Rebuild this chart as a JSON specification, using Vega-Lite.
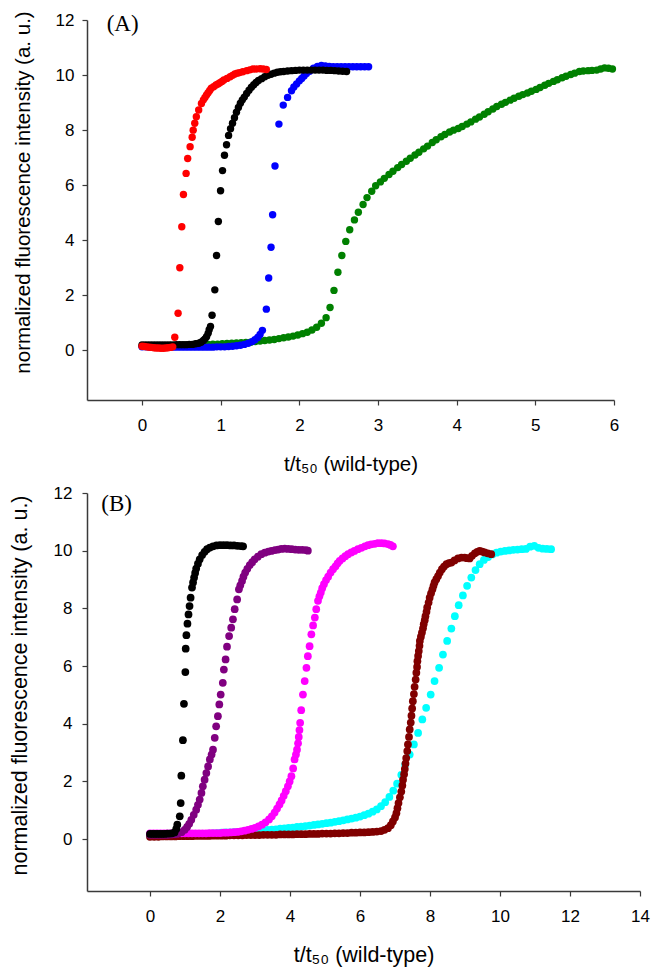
{
"$schema": "https://vega.github.io/schema/vega-lite/v6.json",
"padding": {"left": 9, "top": 10, "right": 5, "bottom": 5},
"background": "white",
"config": {
 "view": {"stroke": null},
 "axis": {"domainColor": "#3a3a3a", "tickColor": "#3a3a3a", "labelColor": "#000", "titleColor": "#000", "labelFont": "Liberation Sans", "titleFont": "Liberation Sans", "labelFontSize": 17, "titleFontWeight": "normal", "grid": false, "tickSize": 5, "domainWidth": 1.5, "tickWidth": 1.2, "labelFlush": false, "titleLimit": 1000, "format": "d"}
},
"datasets": {
"A": [
{"s":"a3","t":0.00,"v":0.15},{"s":"a3","t":0.06,"v":0.15},{"s":"a3","t":0.12,"v":0.16},{"s":"a3","t":0.18,"v":0.16},{"s":"a3","t":0.24,"v":0.17},{"s":"a3","t":0.30,"v":0.17},{"s":"a3","t":0.36,"v":0.18},{"s":"a3","t":0.42,"v":0.18},{"s":"a3","t":0.48,"v":0.19},{"s":"a3","t":0.54,"v":0.19},{"s":"a3","t":0.60,"v":0.20},{"s":"a3","t":0.66,"v":0.20},{"s":"a3","t":0.72,"v":0.21},{"s":"a3","t":0.78,"v":0.21},{"s":"a3","t":0.84,"v":0.22},{"s":"a3","t":0.90,"v":0.23},{"s":"a3","t":0.96,"v":0.23},{"s":"a3","t":1.02,"v":0.24},{"s":"a3","t":1.08,"v":0.25},{"s":"a3","t":1.14,"v":0.26},{"s":"a3","t":1.20,"v":0.27},{"s":"a3","t":1.26,"v":0.28},{"s":"a3","t":1.32,"v":0.29},{"s":"a3","t":1.38,"v":0.30},{"s":"a3","t":1.44,"v":0.32},{"s":"a3","t":1.50,"v":0.34},{"s":"a3","t":1.56,"v":0.36},{"s":"a3","t":1.62,"v":0.38},{"s":"a3","t":1.68,"v":0.40},{"s":"a3","t":1.74,"v":0.43},{"s":"a3","t":1.80,"v":0.46},{"s":"a3","t":1.86,"v":0.49},{"s":"a3","t":1.92,"v":0.52},{"s":"a3","t":1.98,"v":0.56},{"s":"a3","t":2.04,"v":0.61},{"s":"a3","t":2.10,"v":0.66},{"s":"a3","t":2.16,"v":0.74},{"s":"a3","t":2.22,"v":0.84},{"s":"a3","t":2.28,"v":0.99},{"s":"a3","t":2.34,"v":1.19},{"s":"a3","t":2.39,"v":1.56},{"s":"a3","t":2.44,"v":2.18},{"s":"a3","t":2.49,"v":2.84},{"s":"a3","t":2.54,"v":3.45},{"s":"a3","t":2.59,"v":3.96},{"s":"a3","t":2.64,"v":4.38},{"s":"a3","t":2.70,"v":4.74},{"s":"a3","t":2.75,"v":5.02},{"s":"a3","t":2.81,"v":5.30},{"s":"a3","t":2.86,"v":5.55},{"s":"a3","t":2.92,"v":5.78},{"s":"a3","t":2.97,"v":5.98},{"s":"a3","t":3.03,"v":6.12},{"s":"a3","t":3.08,"v":6.25},{"s":"a3","t":3.14,"v":6.39},{"s":"a3","t":3.19,"v":6.51},{"s":"a3","t":3.25,"v":6.64},{"s":"a3","t":3.30,"v":6.75},{"s":"a3","t":3.36,"v":6.87},{"s":"a3","t":3.41,"v":6.98},{"s":"a3","t":3.47,"v":7.10},{"s":"a3","t":3.52,"v":7.20},{"s":"a3","t":3.58,"v":7.32},{"s":"a3","t":3.63,"v":7.42},{"s":"a3","t":3.69,"v":7.55},{"s":"a3","t":3.74,"v":7.65},{"s":"a3","t":3.80,"v":7.76},{"s":"a3","t":3.85,"v":7.84},{"s":"a3","t":3.91,"v":7.93},{"s":"a3","t":3.96,"v":8.00},{"s":"a3","t":4.02,"v":8.06},{"s":"a3","t":4.07,"v":8.13},{"s":"a3","t":4.13,"v":8.22},{"s":"a3","t":4.18,"v":8.30},{"s":"a3","t":4.24,"v":8.40},{"s":"a3","t":4.29,"v":8.48},{"s":"a3","t":4.35,"v":8.58},{"s":"a3","t":4.40,"v":8.67},{"s":"a3","t":4.46,"v":8.77},{"s":"a3","t":4.51,"v":8.86},{"s":"a3","t":4.57,"v":8.94},{"s":"a3","t":4.62,"v":9.01},{"s":"a3","t":4.68,"v":9.09},{"s":"a3","t":4.73,"v":9.16},{"s":"a3","t":4.79,"v":9.23},{"s":"a3","t":4.84,"v":9.29},{"s":"a3","t":4.90,"v":9.35},{"s":"a3","t":4.95,"v":9.41},{"s":"a3","t":5.01,"v":9.48},{"s":"a3","t":5.06,"v":9.55},{"s":"a3","t":5.12,"v":9.63},{"s":"a3","t":5.17,"v":9.70},{"s":"a3","t":5.23,"v":9.77},{"s":"a3","t":5.28,"v":9.83},{"s":"a3","t":5.34,"v":9.90},{"s":"a3","t":5.39,"v":9.96},{"s":"a3","t":5.45,"v":10.02},{"s":"a3","t":5.50,"v":10.07},{"s":"a3","t":5.56,"v":10.13},{"s":"a3","t":5.61,"v":10.15},{"s":"a3","t":5.67,"v":10.16},{"s":"a3","t":5.72,"v":10.17},{"s":"a3","t":5.78,"v":10.18},{"s":"a3","t":5.83,"v":10.22},{"s":"a3","t":5.88,"v":10.26},{"s":"a3","t":5.93,"v":10.25},{"s":"a3","t":5.98,"v":10.22},
{"s":"a2","t":0.00,"v":0.13},{"s":"a2","t":0.05,"v":0.13},{"s":"a2","t":0.10,"v":0.12},{"s":"a2","t":0.15,"v":0.12},{"s":"a2","t":0.20,"v":0.12},{"s":"a2","t":0.25,"v":0.12},{"s":"a2","t":0.30,"v":0.12},{"s":"a2","t":0.35,"v":0.12},{"s":"a2","t":0.40,"v":0.12},{"s":"a2","t":0.45,"v":0.12},{"s":"a2","t":0.50,"v":0.12},{"s":"a2","t":0.55,"v":0.12},{"s":"a2","t":0.60,"v":0.12},{"s":"a2","t":0.65,"v":0.12},{"s":"a2","t":0.70,"v":0.12},{"s":"a2","t":0.75,"v":0.12},{"s":"a2","t":0.80,"v":0.12},{"s":"a2","t":0.85,"v":0.12},{"s":"a2","t":0.90,"v":0.12},{"s":"a2","t":0.95,"v":0.13},{"s":"a2","t":1.00,"v":0.13},{"s":"a2","t":1.05,"v":0.13},{"s":"a2","t":1.10,"v":0.14},{"s":"a2","t":1.15,"v":0.15},{"s":"a2","t":1.20,"v":0.17},{"s":"a2","t":1.25,"v":0.19},{"s":"a2","t":1.30,"v":0.22},{"s":"a2","t":1.35,"v":0.26},{"s":"a2","t":1.40,"v":0.32},{"s":"a2","t":1.435,"v":0.39},{"s":"a2","t":1.47,"v":0.47},{"s":"a2","t":1.50,"v":0.58},{"s":"a2","t":1.53,"v":0.73},{"s":"a2","t":1.58,"v":1.50},{"s":"a2","t":1.61,"v":2.63},{"s":"a2","t":1.64,"v":3.75},{"s":"a2","t":1.66,"v":4.93},{"s":"a2","t":1.69,"v":6.70},{"s":"a2","t":1.74,"v":8.22},{"s":"a2","t":1.795,"v":8.91},{"s":"a2","t":1.85,"v":9.19},{"s":"a2","t":1.90,"v":9.43},{"s":"a2","t":1.93,"v":9.57},{"s":"a2","t":1.965,"v":9.68},{"s":"a2","t":2.00,"v":9.79},{"s":"a2","t":2.03,"v":9.88},{"s":"a2","t":2.06,"v":9.97},{"s":"a2","t":2.09,"v":10.06},{"s":"a2","t":2.13,"v":10.14},{"s":"a2","t":2.18,"v":10.25},{"s":"a2","t":2.23,"v":10.31},{"s":"a2","t":2.28,"v":10.35},{"s":"a2","t":2.33,"v":10.33},{"s":"a2","t":2.38,"v":10.31},{"s":"a2","t":2.43,"v":10.30},{"s":"a2","t":2.48,"v":10.30},{"s":"a2","t":2.53,"v":10.30},{"s":"a2","t":2.58,"v":10.30},{"s":"a2","t":2.63,"v":10.30},{"s":"a2","t":2.68,"v":10.30},{"s":"a2","t":2.73,"v":10.30},{"s":"a2","t":2.78,"v":10.30},{"s":"a2","t":2.83,"v":10.30},{"s":"a2","t":2.88,"v":10.30},
{"s":"wt","t":0.00,"v":0.20},{"s":"wt","t":0.04,"v":0.20},{"s":"wt","t":0.08,"v":0.20},{"s":"wt","t":0.12,"v":0.20},{"s":"wt","t":0.16,"v":0.20},{"s":"wt","t":0.20,"v":0.20},{"s":"wt","t":0.24,"v":0.20},{"s":"wt","t":0.28,"v":0.20},{"s":"wt","t":0.32,"v":0.20},{"s":"wt","t":0.36,"v":0.20},{"s":"wt","t":0.40,"v":0.20},{"s":"wt","t":0.44,"v":0.21},{"s":"wt","t":0.48,"v":0.21},{"s":"wt","t":0.52,"v":0.21},{"s":"wt","t":0.56,"v":0.21},{"s":"wt","t":0.60,"v":0.22},{"s":"wt","t":0.64,"v":0.22},{"s":"wt","t":0.68,"v":0.24},{"s":"wt","t":0.72,"v":0.26},{"s":"wt","t":0.75,"v":0.30},{"s":"wt","t":0.78,"v":0.36},{"s":"wt","t":0.80,"v":0.42},{"s":"wt","t":0.82,"v":0.50},{"s":"wt","t":0.84,"v":0.62},{"s":"wt","t":0.853,"v":0.75},{"s":"wt","t":0.87,"v":0.87},{"s":"wt","t":0.89,"v":1.28},{"s":"wt","t":0.925,"v":2.20},{"s":"wt","t":0.947,"v":3.45},{"s":"wt","t":0.97,"v":4.68},{"s":"wt","t":0.998,"v":5.80},{"s":"wt","t":1.023,"v":6.53},{"s":"wt","t":1.048,"v":7.09},{"s":"wt","t":1.074,"v":7.47},{"s":"wt","t":1.10,"v":7.81},{"s":"wt","t":1.125,"v":8.05},{"s":"wt","t":1.15,"v":8.25},{"s":"wt","t":1.175,"v":8.45},{"s":"wt","t":1.20,"v":8.65},{"s":"wt","t":1.225,"v":8.82},{"s":"wt","t":1.25,"v":8.98},{"s":"wt","t":1.275,"v":9.10},{"s":"wt","t":1.30,"v":9.20},{"s":"wt","t":1.33,"v":9.33},{"s":"wt","t":1.36,"v":9.45},{"s":"wt","t":1.39,"v":9.56},{"s":"wt","t":1.42,"v":9.65},{"s":"wt","t":1.45,"v":9.73},{"s":"wt","t":1.48,"v":9.80},{"s":"wt","t":1.52,"v":9.87},{"s":"wt","t":1.56,"v":9.94},{"s":"wt","t":1.60,"v":9.99},{"s":"wt","t":1.64,"v":10.03},{"s":"wt","t":1.68,"v":10.07},{"s":"wt","t":1.72,"v":10.10},{"s":"wt","t":1.76,"v":10.12},{"s":"wt","t":1.80,"v":10.13},{"s":"wt","t":1.85,"v":10.15},{"s":"wt","t":1.90,"v":10.16},{"s":"wt","t":1.95,"v":10.17},{"s":"wt","t":2.00,"v":10.18},{"s":"wt","t":2.05,"v":10.18},{"s":"wt","t":2.10,"v":10.18},{"s":"wt","t":2.15,"v":10.18},{"s":"wt","t":2.20,"v":10.18},{"s":"wt","t":2.25,"v":10.18},{"s":"wt","t":2.30,"v":10.18},{"s":"wt","t":2.35,"v":10.17},{"s":"wt","t":2.40,"v":10.17},{"s":"wt","t":2.45,"v":10.16},{"s":"wt","t":2.50,"v":10.15},{"s":"wt","t":2.55,"v":10.14},{"s":"wt","t":2.60,"v":10.13},
{"s":"a1","t":0.00,"v":0.15},{"s":"a1","t":0.03,"v":0.14},{"s":"a1","t":0.06,"v":0.13},{"s":"a1","t":0.09,"v":0.12},{"s":"a1","t":0.12,"v":0.11},{"s":"a1","t":0.15,"v":0.10},{"s":"a1","t":0.18,"v":0.09},{"s":"a1","t":0.21,"v":0.09},{"s":"a1","t":0.24,"v":0.08},{"s":"a1","t":0.27,"v":0.08},{"s":"a1","t":0.30,"v":0.09},{"s":"a1","t":0.33,"v":0.10},{"s":"a1","t":0.36,"v":0.11},{"s":"a1","t":0.39,"v":0.13},{"s":"a1","t":0.416,"v":0.48},{"s":"a1","t":0.458,"v":1.35},{"s":"a1","t":0.48,"v":3.00},{"s":"a1","t":0.505,"v":4.49},{"s":"a1","t":0.526,"v":5.66},{"s":"a1","t":0.56,"v":6.43},{"s":"a1","t":0.58,"v":6.97},{"s":"a1","t":0.611,"v":7.40},{"s":"a1","t":0.637,"v":7.74},{"s":"a1","t":0.65,"v":8.00},{"s":"a1","t":0.67,"v":8.25},{"s":"a1","t":0.69,"v":8.49},{"s":"a1","t":0.72,"v":8.73},{"s":"a1","t":0.755,"v":8.97},{"s":"a1","t":0.78,"v":9.10},{"s":"a1","t":0.80,"v":9.19},{"s":"a1","t":0.82,"v":9.28},{"s":"a1","t":0.84,"v":9.36},{"s":"a1","t":0.86,"v":9.44},{"s":"a1","t":0.88,"v":9.52},{"s":"a1","t":0.91,"v":9.58},{"s":"a1","t":0.94,"v":9.64},{"s":"a1","t":0.965,"v":9.68},{"s":"a1","t":0.99,"v":9.72},{"s":"a1","t":1.015,"v":9.77},{"s":"a1","t":1.04,"v":9.82},{"s":"a1","t":1.08,"v":9.88},{"s":"a1","t":1.12,"v":9.94},{"s":"a1","t":1.15,"v":9.99},{"s":"a1","t":1.18,"v":10.04},{"s":"a1","t":1.21,"v":10.07},{"s":"a1","t":1.24,"v":10.09},{"s":"a1","t":1.28,"v":10.12},{"s":"a1","t":1.33,"v":10.16},{"s":"a1","t":1.37,"v":10.19},{"s":"a1","t":1.41,"v":10.22},{"s":"a1","t":1.45,"v":10.22},{"s":"a1","t":1.50,"v":10.23},{"s":"a1","t":1.54,"v":10.22},{"s":"a1","t":1.58,"v":10.20}
],
"B": [
{"s":"b4","t":0.00,"v":0.12},{"s":"b4","t":0.12,"v":0.12},{"s":"b4","t":0.24,"v":0.13},{"s":"b4","t":0.36,"v":0.13},{"s":"b4","t":0.48,"v":0.13},{"s":"b4","t":0.60,"v":0.14},{"s":"b4","t":0.72,"v":0.14},{"s":"b4","t":0.84,"v":0.15},{"s":"b4","t":0.96,"v":0.15},{"s":"b4","t":1.08,"v":0.16},{"s":"b4","t":1.20,"v":0.16},{"s":"b4","t":1.32,"v":0.17},{"s":"b4","t":1.44,"v":0.18},{"s":"b4","t":1.56,"v":0.18},{"s":"b4","t":1.68,"v":0.19},{"s":"b4","t":1.80,"v":0.20},{"s":"b4","t":1.92,"v":0.21},{"s":"b4","t":2.04,"v":0.22},{"s":"b4","t":2.16,"v":0.23},{"s":"b4","t":2.28,"v":0.23},{"s":"b4","t":2.40,"v":0.24},{"s":"b4","t":2.52,"v":0.25},{"s":"b4","t":2.64,"v":0.26},{"s":"b4","t":2.76,"v":0.27},{"s":"b4","t":2.88,"v":0.28},{"s":"b4","t":3.00,"v":0.29},{"s":"b4","t":3.12,"v":0.30},{"s":"b4","t":3.24,"v":0.31},{"s":"b4","t":3.36,"v":0.32},{"s":"b4","t":3.48,"v":0.33},{"s":"b4","t":3.60,"v":0.34},{"s":"b4","t":3.72,"v":0.36},{"s":"b4","t":3.84,"v":0.37},{"s":"b4","t":3.96,"v":0.39},{"s":"b4","t":4.08,"v":0.40},{"s":"b4","t":4.20,"v":0.42},{"s":"b4","t":4.32,"v":0.43},{"s":"b4","t":4.44,"v":0.45},{"s":"b4","t":4.56,"v":0.47},{"s":"b4","t":4.68,"v":0.49},{"s":"b4","t":4.80,"v":0.51},{"s":"b4","t":4.92,"v":0.53},{"s":"b4","t":5.04,"v":0.55},{"s":"b4","t":5.16,"v":0.57},{"s":"b4","t":5.28,"v":0.60},{"s":"b4","t":5.40,"v":0.62},{"s":"b4","t":5.52,"v":0.65},{"s":"b4","t":5.64,"v":0.68},{"s":"b4","t":5.76,"v":0.71},{"s":"b4","t":5.88,"v":0.74},{"s":"b4","t":6.00,"v":0.78},{"s":"b4","t":6.12,"v":0.83},{"s":"b4","t":6.24,"v":0.88},{"s":"b4","t":6.36,"v":0.95},{"s":"b4","t":6.48,"v":1.03},{"s":"b4","t":6.60,"v":1.14},{"s":"b4","t":6.72,"v":1.28},{"s":"b4","t":6.84,"v":1.46},{"s":"b4","t":6.95,"v":1.68},{"s":"b4","t":7.06,"v":1.92},{"s":"b4","t":7.18,"v":2.23},{"s":"b4","t":7.29,"v":2.58},{"s":"b4","t":7.42,"v":2.93},{"s":"b4","t":7.54,"v":3.28},{"s":"b4","t":7.66,"v":3.68},{"s":"b4","t":7.78,"v":4.15},{"s":"b4","t":7.89,"v":4.55},{"s":"b4","t":8.02,"v":5.01},{"s":"b4","t":8.13,"v":5.48},{"s":"b4","t":8.26,"v":5.94},{"s":"b4","t":8.37,"v":6.40},{"s":"b4","t":8.49,"v":6.87},{"s":"b4","t":8.61,"v":7.30},{"s":"b4","t":8.71,"v":7.73},{"s":"b4","t":8.82,"v":8.11},{"s":"b4","t":8.94,"v":8.45},{"s":"b4","t":9.06,"v":8.78},{"s":"b4","t":9.18,"v":9.07},{"s":"b4","t":9.30,"v":9.33},{"s":"b4","t":9.42,"v":9.53},{"s":"b4","t":9.54,"v":9.68},{"s":"b4","t":9.66,"v":9.78},{"s":"b4","t":9.78,"v":9.87},{"s":"b4","t":9.90,"v":9.93},{"s":"b4","t":10.02,"v":9.97},{"s":"b4","t":10.14,"v":9.99},{"s":"b4","t":10.26,"v":10.01},{"s":"b4","t":10.38,"v":10.03},{"s":"b4","t":10.50,"v":10.04},{"s":"b4","t":10.62,"v":10.05},{"s":"b4","t":10.74,"v":10.06},{"s":"b4","t":10.86,"v":10.14},{"s":"b4","t":10.98,"v":10.17},{"s":"b4","t":11.10,"v":10.10},{"s":"b4","t":11.22,"v":10.07},{"s":"b4","t":11.34,"v":10.06},{"s":"b4","t":11.46,"v":10.05},
{"s":"b3","t":0.00,"v":0.08},{"s":"b3","t":0.12,"v":0.08},{"s":"b3","t":0.24,"v":0.08},{"s":"b3","t":0.36,"v":0.09},{"s":"b3","t":0.48,"v":0.09},{"s":"b3","t":0.60,"v":0.09},{"s":"b3","t":0.72,"v":0.09},{"s":"b3","t":0.84,"v":0.10},{"s":"b3","t":0.96,"v":0.10},{"s":"b3","t":1.08,"v":0.10},{"s":"b3","t":1.20,"v":0.10},{"s":"b3","t":1.32,"v":0.11},{"s":"b3","t":1.44,"v":0.11},{"s":"b3","t":1.56,"v":0.11},{"s":"b3","t":1.68,"v":0.11},{"s":"b3","t":1.80,"v":0.12},{"s":"b3","t":1.92,"v":0.12},{"s":"b3","t":2.04,"v":0.12},{"s":"b3","t":2.16,"v":0.12},{"s":"b3","t":2.28,"v":0.13},{"s":"b3","t":2.40,"v":0.13},{"s":"b3","t":2.52,"v":0.13},{"s":"b3","t":2.64,"v":0.13},{"s":"b3","t":2.76,"v":0.14},{"s":"b3","t":2.88,"v":0.14},{"s":"b3","t":3.00,"v":0.14},{"s":"b3","t":3.12,"v":0.14},{"s":"b3","t":3.24,"v":0.15},{"s":"b3","t":3.36,"v":0.15},{"s":"b3","t":3.48,"v":0.15},{"s":"b3","t":3.60,"v":0.15},{"s":"b3","t":3.72,"v":0.16},{"s":"b3","t":3.84,"v":0.16},{"s":"b3","t":3.96,"v":0.16},{"s":"b3","t":4.08,"v":0.16},{"s":"b3","t":4.20,"v":0.17},{"s":"b3","t":4.32,"v":0.17},{"s":"b3","t":4.44,"v":0.17},{"s":"b3","t":4.56,"v":0.18},{"s":"b3","t":4.68,"v":0.18},{"s":"b3","t":4.80,"v":0.18},{"s":"b3","t":4.92,"v":0.19},{"s":"b3","t":5.04,"v":0.19},{"s":"b3","t":5.16,"v":0.19},{"s":"b3","t":5.28,"v":0.20},{"s":"b3","t":5.40,"v":0.20},{"s":"b3","t":5.52,"v":0.21},{"s":"b3","t":5.64,"v":0.21},{"s":"b3","t":5.76,"v":0.22},{"s":"b3","t":5.88,"v":0.22},{"s":"b3","t":6.00,"v":0.23},{"s":"b3","t":6.12,"v":0.23},{"s":"b3","t":6.24,"v":0.24},{"s":"b3","t":6.36,"v":0.25},{"s":"b3","t":6.48,"v":0.26},{"s":"b3","t":6.60,"v":0.28},{"s":"b3","t":6.70,"v":0.32},{"s":"b3","t":6.80,"v":0.38},{"s":"b3","t":6.88,"v":0.48},{"s":"b3","t":6.94,"v":0.61},{"s":"b3","t":7.00,"v":0.75},{"s":"b3","t":7.04,"v":0.90},{"s":"b3","t":7.07,"v":1.07},{"s":"b3","t":7.10,"v":1.25},{"s":"b3","t":7.14,"v":1.45},{"s":"b3","t":7.18,"v":1.65},{"s":"b3","t":7.21,"v":1.86},{"s":"b3","t":7.23,"v":2.06},{"s":"b3","t":7.26,"v":2.25},{"s":"b3","t":7.28,"v":2.43},{"s":"b3","t":7.30,"v":2.62},{"s":"b3","t":7.32,"v":2.81},{"s":"b3","t":7.35,"v":3.05},{"s":"b3","t":7.37,"v":3.28},{"s":"b3","t":7.40,"v":3.54},{"s":"b3","t":7.42,"v":3.80},{"s":"b3","t":7.45,"v":4.04},{"s":"b3","t":7.47,"v":4.28},{"s":"b3","t":7.49,"v":4.53},{"s":"b3","t":7.51,"v":4.78},{"s":"b3","t":7.54,"v":5.03},{"s":"b3","t":7.56,"v":5.28},{"s":"b3","t":7.59,"v":5.53},{"s":"b3","t":7.61,"v":5.77},{"s":"b3","t":7.63,"v":5.97},{"s":"b3","t":7.64,"v":6.17},{"s":"b3","t":7.66,"v":6.35},{"s":"b3","t":7.68,"v":6.52},{"s":"b3","t":7.70,"v":6.70},{"s":"b3","t":7.71,"v":6.87},{"s":"b3","t":7.74,"v":7.02},{"s":"b3","t":7.77,"v":7.16},{"s":"b3","t":7.80,"v":7.31},{"s":"b3","t":7.82,"v":7.45},{"s":"b3","t":7.85,"v":7.59},{"s":"b3","t":7.87,"v":7.73},{"s":"b3","t":7.90,"v":7.88},{"s":"b3","t":7.92,"v":8.03},{"s":"b3","t":7.96,"v":8.20},{"s":"b3","t":7.99,"v":8.37},{"s":"b3","t":8.03,"v":8.52},{"s":"b3","t":8.07,"v":8.66},{"s":"b3","t":8.10,"v":8.78},{"s":"b3","t":8.13,"v":8.90},{"s":"b3","t":8.18,"v":9.01},{"s":"b3","t":8.23,"v":9.12},{"s":"b3","t":8.28,"v":9.24},{"s":"b3","t":8.34,"v":9.36},{"s":"b3","t":8.40,"v":9.45},{"s":"b3","t":8.47,"v":9.53},{"s":"b3","t":8.54,"v":9.57},{"s":"b3","t":8.61,"v":9.59},{"s":"b3","t":8.70,"v":9.66},{"s":"b3","t":8.80,"v":9.73},{"s":"b3","t":8.90,"v":9.76},{"s":"b3","t":8.99,"v":9.76},{"s":"b3","t":9.06,"v":9.74},{"s":"b3","t":9.13,"v":9.73},{"s":"b3","t":9.20,"v":9.82},{"s":"b3","t":9.28,"v":9.91},{"s":"b3","t":9.35,"v":9.96},{"s":"b3","t":9.42,"v":9.99},{"s":"b3","t":9.49,"v":9.97},{"s":"b3","t":9.56,"v":9.94},{"s":"b3","t":9.65,"v":9.91},{"s":"b3","t":9.75,"v":9.88},
{"s":"b2","t":0.00,"v":0.20},{"s":"b2","t":0.10,"v":0.20},{"s":"b2","t":0.20,"v":0.20},{"s":"b2","t":0.30,"v":0.20},{"s":"b2","t":0.40,"v":0.20},{"s":"b2","t":0.50,"v":0.20},{"s":"b2","t":0.60,"v":0.20},{"s":"b2","t":0.70,"v":0.20},{"s":"b2","t":0.80,"v":0.20},{"s":"b2","t":0.90,"v":0.20},{"s":"b2","t":1.00,"v":0.20},{"s":"b2","t":1.10,"v":0.20},{"s":"b2","t":1.20,"v":0.20},{"s":"b2","t":1.30,"v":0.20},{"s":"b2","t":1.40,"v":0.20},{"s":"b2","t":1.50,"v":0.20},{"s":"b2","t":1.60,"v":0.20},{"s":"b2","t":1.70,"v":0.21},{"s":"b2","t":1.80,"v":0.21},{"s":"b2","t":1.90,"v":0.21},{"s":"b2","t":2.00,"v":0.21},{"s":"b2","t":2.10,"v":0.22},{"s":"b2","t":2.20,"v":0.22},{"s":"b2","t":2.30,"v":0.23},{"s":"b2","t":2.40,"v":0.24},{"s":"b2","t":2.50,"v":0.25},{"s":"b2","t":2.60,"v":0.27},{"s":"b2","t":2.70,"v":0.29},{"s":"b2","t":2.80,"v":0.32},{"s":"b2","t":2.90,"v":0.35},{"s":"b2","t":3.00,"v":0.39},{"s":"b2","t":3.10,"v":0.44},{"s":"b2","t":3.20,"v":0.50},{"s":"b2","t":3.30,"v":0.58},{"s":"b2","t":3.40,"v":0.68},{"s":"b2","t":3.48,"v":0.79},{"s":"b2","t":3.56,"v":0.92},{"s":"b2","t":3.63,"v":1.06},{"s":"b2","t":3.70,"v":1.20},{"s":"b2","t":3.76,"v":1.34},{"s":"b2","t":3.82,"v":1.50},{"s":"b2","t":3.88,"v":1.66},{"s":"b2","t":3.94,"v":1.83},{"s":"b2","t":3.99,"v":2.00},{"s":"b2","t":4.04,"v":2.18},{"s":"b2","t":4.09,"v":2.45},{"s":"b2","t":4.13,"v":2.76},{"s":"b2","t":4.17,"v":2.93},{"s":"b2","t":4.20,"v":3.10},{"s":"b2","t":4.23,"v":3.32},{"s":"b2","t":4.25,"v":3.54},{"s":"b2","t":4.27,"v":3.78},{"s":"b2","t":4.29,"v":4.03},{"s":"b2","t":4.32,"v":4.47},{"s":"b2","t":4.37,"v":5.01},{"s":"b2","t":4.42,"v":5.48},{"s":"b2","t":4.47,"v":5.94},{"s":"b2","t":4.51,"v":6.34},{"s":"b2","t":4.56,"v":6.69},{"s":"b2","t":4.61,"v":7.10},{"s":"b2","t":4.66,"v":7.41},{"s":"b2","t":4.71,"v":7.68},{"s":"b2","t":4.75,"v":7.97},{"s":"b2","t":4.80,"v":8.26},{"s":"b2","t":4.84,"v":8.42},{"s":"b2","t":4.88,"v":8.55},{"s":"b2","t":4.92,"v":8.70},{"s":"b2","t":4.97,"v":8.84},{"s":"b2","t":5.03,"v":8.98},{"s":"b2","t":5.09,"v":9.10},{"s":"b2","t":5.16,"v":9.24},{"s":"b2","t":5.23,"v":9.36},{"s":"b2","t":5.30,"v":9.46},{"s":"b2","t":5.36,"v":9.56},{"s":"b2","t":5.42,"v":9.65},{"s":"b2","t":5.50,"v":9.73},{"s":"b2","t":5.58,"v":9.81},{"s":"b2","t":5.66,"v":9.88},{"s":"b2","t":5.75,"v":9.94},{"s":"b2","t":5.84,"v":9.99},{"s":"b2","t":5.94,"v":10.05},{"s":"b2","t":6.04,"v":10.10},{"s":"b2","t":6.14,"v":10.15},{"s":"b2","t":6.23,"v":10.19},{"s":"b2","t":6.32,"v":10.22},{"s":"b2","t":6.42,"v":10.24},{"s":"b2","t":6.51,"v":10.26},{"s":"b2","t":6.61,"v":10.26},{"s":"b2","t":6.70,"v":10.25},{"s":"b2","t":6.80,"v":10.23},{"s":"b2","t":6.87,"v":10.20},{"s":"b2","t":6.94,"v":10.15},
{"s":"b1","t":0.00,"v":0.15},{"s":"b1","t":0.10,"v":0.15},{"s":"b1","t":0.20,"v":0.15},{"s":"b1","t":0.30,"v":0.15},{"s":"b1","t":0.40,"v":0.15},{"s":"b1","t":0.50,"v":0.15},{"s":"b1","t":0.60,"v":0.16},{"s":"b1","t":0.70,"v":0.17},{"s":"b1","t":0.80,"v":0.19},{"s":"b1","t":0.90,"v":0.24},{"s":"b1","t":0.99,"v":0.32},{"s":"b1","t":1.06,"v":0.42},{"s":"b1","t":1.12,"v":0.53},{"s":"b1","t":1.18,"v":0.67},{"s":"b1","t":1.25,"v":0.84},{"s":"b1","t":1.32,"v":1.02},{"s":"b1","t":1.37,"v":1.19},{"s":"b1","t":1.42,"v":1.37},{"s":"b1","t":1.47,"v":1.60},{"s":"b1","t":1.51,"v":1.83},{"s":"b1","t":1.56,"v":2.06},{"s":"b1","t":1.61,"v":2.29},{"s":"b1","t":1.66,"v":2.52},{"s":"b1","t":1.71,"v":2.76},{"s":"b1","t":1.76,"v":2.93},{"s":"b1","t":1.80,"v":3.10},{"s":"b1","t":1.85,"v":3.51},{"s":"b1","t":1.89,"v":3.91},{"s":"b1","t":1.94,"v":4.26},{"s":"b1","t":1.98,"v":4.67},{"s":"b1","t":2.02,"v":5.01},{"s":"b1","t":2.08,"v":5.42},{"s":"b1","t":2.11,"v":5.88},{"s":"b1","t":2.16,"v":6.23},{"s":"b1","t":2.20,"v":6.67},{"s":"b1","t":2.26,"v":7.04},{"s":"b1","t":2.32,"v":7.33},{"s":"b1","t":2.37,"v":7.62},{"s":"b1","t":2.42,"v":7.97},{"s":"b1","t":2.49,"v":8.31},{"s":"b1","t":2.54,"v":8.66},{"s":"b1","t":2.58,"v":8.80},{"s":"b1","t":2.63,"v":8.95},{"s":"b1","t":2.67,"v":9.10},{"s":"b1","t":2.72,"v":9.24},{"s":"b1","t":2.78,"v":9.37},{"s":"b1","t":2.85,"v":9.50},{"s":"b1","t":2.92,"v":9.60},{"s":"b1","t":2.99,"v":9.70},{"s":"b1","t":3.08,"v":9.79},{"s":"b1","t":3.18,"v":9.88},{"s":"b1","t":3.28,"v":9.93},{"s":"b1","t":3.38,"v":9.97},{"s":"b1","t":3.47,"v":9.99},{"s":"b1","t":3.57,"v":10.02},{"s":"b1","t":3.66,"v":10.04},{"s":"b1","t":3.75,"v":10.06},{"s":"b1","t":3.85,"v":10.07},{"s":"b1","t":3.95,"v":10.06},{"s":"b1","t":4.05,"v":10.05},{"s":"b1","t":4.15,"v":10.04},{"s":"b1","t":4.25,"v":10.03},{"s":"b1","t":4.35,"v":10.03},{"s":"b1","t":4.45,"v":10.02},{"s":"b1","t":4.51,"v":10.00},
{"s":"wt","t":0.00,"v":0.18},{"s":"wt","t":0.07,"v":0.18},{"s":"wt","t":0.14,"v":0.18},{"s":"wt","t":0.21,"v":0.18},{"s":"wt","t":0.28,"v":0.18},{"s":"wt","t":0.35,"v":0.18},{"s":"wt","t":0.42,"v":0.18},{"s":"wt","t":0.49,"v":0.19},{"s":"wt","t":0.56,"v":0.19},{"s":"wt","t":0.63,"v":0.20},{"s":"wt","t":0.70,"v":0.23},{"s":"wt","t":0.75,"v":0.35},{"s":"wt","t":0.78,"v":0.50},{"s":"wt","t":0.85,"v":0.79},{"s":"wt","t":0.877,"v":1.25},{"s":"wt","t":0.895,"v":2.20},{"s":"wt","t":0.94,"v":3.43},{"s":"wt","t":0.97,"v":4.69},{"s":"wt","t":1.01,"v":5.79},{"s":"wt","t":1.02,"v":6.60},{"s":"wt","t":1.04,"v":7.07},{"s":"wt","t":1.07,"v":7.47},{"s":"wt","t":1.10,"v":7.79},{"s":"wt","t":1.13,"v":8.08},{"s":"wt","t":1.16,"v":8.37},{"s":"wt","t":1.20,"v":8.72},{"s":"wt","t":1.23,"v":8.90},{"s":"wt","t":1.26,"v":9.07},{"s":"wt","t":1.29,"v":9.23},{"s":"wt","t":1.32,"v":9.38},{"s":"wt","t":1.37,"v":9.55},{"s":"wt","t":1.42,"v":9.70},{"s":"wt","t":1.49,"v":9.85},{"s":"wt","t":1.56,"v":9.96},{"s":"wt","t":1.63,"v":10.05},{"s":"wt","t":1.71,"v":10.11},{"s":"wt","t":1.80,"v":10.15},{"s":"wt","t":1.90,"v":10.18},{"s":"wt","t":2.00,"v":10.19},{"s":"wt","t":2.10,"v":10.19},{"s":"wt","t":2.20,"v":10.19},{"s":"wt","t":2.30,"v":10.18},{"s":"wt","t":2.40,"v":10.18},{"s":"wt","t":2.50,"v":10.17},{"s":"wt","t":2.60,"v":10.16},{"s":"wt","t":2.66,"v":10.15}
]
},
"spacing": 9,
"vconcat": [
 {
  "width": 527, "height": 380,
  "layer": [
   {
    "data": {"name": "A"},
    "mark": {"type": "circle", "size": 55, "opacity": 1},
    "encoding": {
     "x": {"field": "t", "type": "quantitative", "scale": {"domain": [-0.7, 6], "nice": false, "zero": false},
           "axis": {"values": [0, 1, 2, 3, 4, 5, 6], "title": "t/t₅₀ (wild-type)", "titleFontSize": 20.5, "labelPadding": 12, "titlePadding": 21}},
     "y": {"field": "v", "type": "quantitative", "scale": {"domain": [-1.8, 12], "nice": false, "zero": false},
           "axis": {"values": [0, 2, 4, 6, 8, 10, 12], "title": "normalized fluorescence intensity (a. u.)", "titleFontSize": 20.5, "labelPadding": 8, "titlePadding": 22, "titleY": 172}},
     "color": {"field": "s", "type": "nominal", "legend": null,
               "scale": {"domain": ["wt", "a1", "a2", "a3", "b1", "b2", "b3", "b4"], "range": ["#000000", "#ff0000", "#0000ff", "#008000", "#800080", "#ff00ff", "#800000", "#00ffff"]}}
    }
   },
   {
    "data": {"values": [{"label": "(A)"}]},
    "mark": {"type": "text", "font": "Liberation Serif", "fontSize": 23, "align": "left", "baseline": "alphabetic", "color": "#000"},
    "encoding": {"x": {"datum": -0.45}, "y": {"datum": 11.61}, "text": {"field": "label"}}
   }
  ]
 },
 {
  "width": 553, "height": 398,
  "layer": [
   {
    "data": {"name": "B"},
    "mark": {"type": "circle", "size": 60, "opacity": 1},
    "encoding": {
     "x": {"field": "t", "type": "quantitative", "scale": {"domain": [-1.8, 14], "nice": false, "zero": false},
           "axis": {"values": [0, 2, 4, 6, 8, 10, 12, 14], "title": "t/t₅₀ (wild-type)", "titleFontSize": 21.5, "labelPadding": 12, "titlePadding": 20}},
     "y": {"field": "v", "type": "quantitative", "scale": {"domain": [-1.8, 12], "nice": false, "zero": false},
           "axis": {"values": [0, 2, 4, 6, 8, 10, 12], "title": "normalized fluorescence intensity (a. u.)", "titleFontSize": 21.5, "labelPadding": 10, "titlePadding": 22, "titleY": 192}},
     "color": {"field": "s", "type": "nominal", "legend": null,
               "scale": {"domain": ["wt", "a1", "a2", "a3", "b1", "b2", "b3", "b4"], "range": ["#000000", "#ff0000", "#0000ff", "#008000", "#800080", "#ff00ff", "#800000", "#00ffff"]}}
    }
   },
   {
    "data": {"values": [{"label": "(B)"}]},
    "mark": {"type": "text", "font": "Liberation Serif", "fontSize": 23, "align": "left", "baseline": "alphabetic", "color": "#000"},
    "encoding": {"x": {"datum": -1.39}, "y": {"datum": 11.36}, "text": {"field": "label"}}
   }
  ]
 }
]
}
